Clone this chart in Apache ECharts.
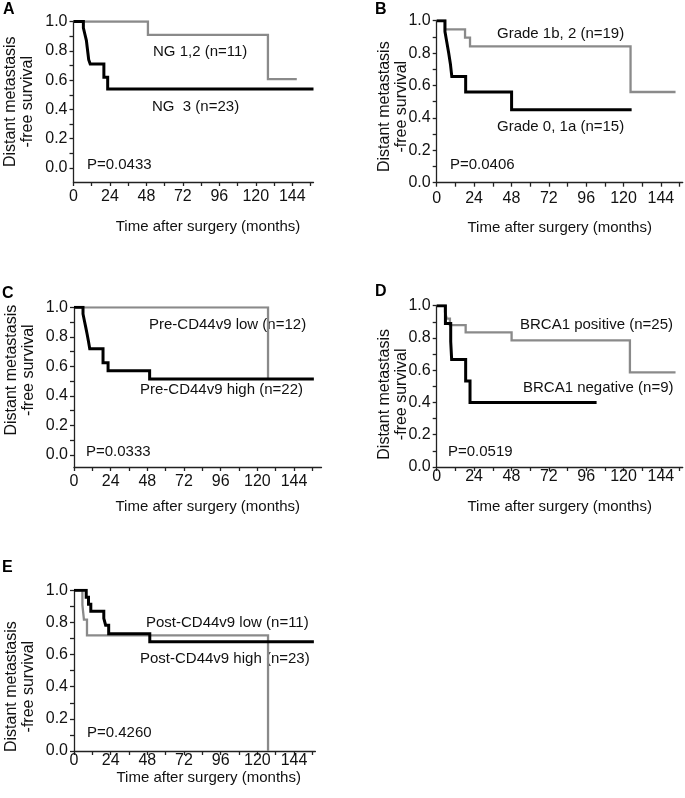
<!DOCTYPE html>
<html>
<head>
<meta charset="utf-8">
<script src="https://cdn.jsdelivr.net/npm/echarts@6/dist/echarts.min.js"></script>
<style>
html,body{margin:0;padding:0;background:#fff;}
#chart{width:685px;height:798px;}
</style>
</head>
<body>
<div id="chart"></div>
<script>
// ---- axis ticks / labels ----
const monthTicks = [0, 12, 24, 36, 48, 60, 72, 84, 96, 108, 120, 132, 144, 156];
const monthLabels = [0, 24, 48, 72, 96, 120, 144];
const survTicks = [0, 0.1, 0.2, 0.3, 0.4, 0.5, 0.6, 0.7, 0.8, 0.9, 1.0];
const survLabels = [0, 0.2, 0.4, 0.6, 0.8, 1.0];

// ---- Panel A : nuclear grade ----
const aNg12Time = [0, 49, 128, 147];
const aNg12Surv = [1, 0.909, 0.606, 0.606];
const aNg3Time = [0, 6.5, 7.5, 8.5, 9, 9.5, 10, 11, 20, 22.5, 158];
const aNg3Surv = [1, 0.957, 0.913, 0.87, 0.826, 0.783, 0.739, 0.71, 0.62, 0.54, 0.54];

// ---- Panel B : histological grade ----
const bG1b2Time = [0, 5.3, 18.2, 21.4, 124.5, 153.4];
const bG1b2Surv = [1, 0.947, 0.895, 0.842, 0.56, 0.56];
const bG01aTime = [0, 5.3, 6.5, 7.7, 8.8, 9.7, 18.6, 48.1, 125.2];
const bG01aSurv = [1, 0.933, 0.867, 0.8, 0.733, 0.655, 0.56, 0.45, 0.45];

// ---- Panel C : pre-treatment CD44v9 ----
const cLowTime = [0, 127];
const cLowSurv = [1, 0.515];
const cHighTime = [0, 5.9, 6.8, 7.7, 8.6, 9.4, 10.3, 19, 22.3, 49.5, 157];
const cHighSurv = [1, 0.955, 0.909, 0.864, 0.818, 0.773, 0.72, 0.625, 0.57, 0.515, 0.515];

// ---- Panel D : BRCA1 ----
const dPosTime = [0, 5.3, 6.5, 8.5, 18.6, 48.1, 124.1, 153.4];
const dPosSurv = [1, 0.96, 0.92, 0.88, 0.835, 0.785, 0.587, 0.587];
const dNegTime = [0, 5.6, 9, 9.6, 18.6, 21.4, 102.7];
const dNegSurv = [1, 0.889, 0.778, 0.667, 0.533, 0.40, 0.40];

// ---- Panel E : post-treatment CD44v9 ----
const eLowTime = [0, 5.5, 6.5, 8.5, 127];
const eLowSurv = [1, 0.909, 0.818, 0.72, 0];
const eHighTime = [0, 8, 9.5, 11, 19.5, 20.7, 22.7, 49.6, 157];
const eHighSurv = [1, 0.956, 0.913, 0.87, 0.826, 0.783, 0.73, 0.68, 0.68];

const GRAY = '#8a8a8a';
const BLACK = '#000000';
const TXT = '#111111';
const FONT = '"Liberation Sans", Arial, sans-serif';

function pairs(t, s) { return t.map((v, i) => [v, s[i]]); }

const panels = [
  { letter: 'A', grid: { left: 73.5, top: 21.5, width: 240, height: 160.5 }, yMin: -0.0955, xMax: 158,
    xLabelMargin: 7, xNameGap: 37, xNamePad: [0, 0, 0, 29], yNameGap: 37, yNamePad: [0, 0, 0, 0],
    series: [
      { name: 'NG 1,2 (n=11)', t: aNg12Time, s: aNg12Surv, color: GRAY, w: 2.3 },
      { name: 'NG 3 (n=23)', t: aNg3Time, s: aNg3Surv, color: BLACK, w: 3 }
    ] },
  { letter: 'B', grid: { left: 436.7, top: 20.7, width: 246, height: 162 }, yMin: 0, xMax: 158,
    xLabelMargin: 8, xNameGap: 38, xNamePad: [0, 0, 0, 0], yNameGap: 27, yNamePad: [0, 10, 0, 0],
    series: [
      { name: 'Grade 1b, 2 (n=19)', t: bG1b2Time, s: bG1b2Surv, color: GRAY, w: 2.3 },
      { name: 'Grade 0, 1a (n=15)', t: bG01aTime, s: bG01aSurv, color: BLACK, w: 3 }
    ] },
  { letter: 'C', grid: { left: 74, top: 307.3, width: 247.5, height: 159.7 }, yMin: -0.081, xMax: 162,
    xLabelMargin: 7, xNameGap: 32, xNamePad: [0, 0, 0, 20], yNameGap: 37, yNamePad: [0, 0, 0, 34],
    series: [
      { name: 'Pre-CD44v9 low (n=12)', t: cLowTime, s: cLowSurv, color: GRAY, w: 2.3 },
      { name: 'Pre-CD44v9 high (n=22)', t: cHighTime, s: cHighSurv, color: BLACK, w: 3 }
    ] },
  { letter: 'D', grid: { left: 436.7, top: 305.7, width: 246, height: 161.3 }, yMin: 0, xMax: 158,
    xLabelMargin: 2, xNameGap: 32, xNamePad: [0, 0, 0, 0], yNameGap: 27, yNamePad: [0, 16, 0, 0],
    series: [
      { name: 'BRCA1 positive (n=25)', t: dPosTime, s: dPosSurv, color: GRAY, w: 2.3 },
      { name: 'BRCA1 negative (n=9)', t: dNegTime, s: dNegSurv, color: BLACK, w: 3 }
    ] },
  { letter: 'E', grid: { left: 74, top: 590.3, width: 241.4, height: 160.7 }, yMin: 0, xMax: 158,
    xLabelMargin: 2, xNameGap: 19, xNamePad: [0, 0, 0, 28], yNameGap: 37, yNamePad: [0, 32, 0, 0],
    series: [
      { name: 'Post-CD44v9 low (n=11)', t: eLowTime, s: eLowSurv, color: GRAY, w: 2.3 },
      { name: 'Post-CD44v9 high (n=23)', t: eHighTime, s: eHighSurv, color: BLACK, w: 3 }
    ] }
];

// annotation texts (pixel placement of the labels)
const annotations = [
  { text: 'NG 1,2 (n=11)', x: 153, y: 52 },
  { text: 'NG  3 (n=23)', x: 152, y: 107 },
  { text: 'P=0.0433', x: 87, y: 165 },
  { text: 'Grade 1b, 2 (n=19)', x: 497, y: 34 },
  { text: 'Grade 0, 1a (n=15)', x: 497, y: 127 },
  { text: 'P=0.0406', x: 450, y: 165 },
  { text: 'Pre-CD44v9 low (n=12)', x: 149, y: 325 },
  { text: 'Pre-CD44v9 high (n=22)', x: 140, y: 390 },
  { text: 'P=0.0333', x: 86, y: 452 },
  { text: 'BRCA1 positive (n=25)', x: 520, y: 325 },
  { text: 'BRCA1 negative (n=9)', x: 523, y: 388 },
  { text: 'P=0.0519', x: 448, y: 452 },
  { text: 'Post-CD44v9 low (n=11)', x: 146, y: 623 },
  { text: 'Post-CD44v9 high (n=23)', x: 140, y: 659 },
  { text: 'P=0.4260', x: 87, y: 733 }
];
const letterPos = [[3, 10], [375, 10], [2, 294], [375, 292], [2, 568]];

const axisLineStyle = { color: '#222', width: 1.3 };

const option = {
  animation: false,
  backgroundColor: '#fff',
  textStyle: { fontFamily: FONT, color: TXT },
  grid: [], xAxis: [], yAxis: [], series: [], graphic: []
};

panels.forEach((p, i) => {
  option.grid.push(Object.assign({ containLabel: false }, p.grid));
  option.xAxis.push({
    gridIndex: i, type: 'value', min: 0, max: p.xMax,
    name: 'Time after surgery (months)', nameLocation: 'middle', nameGap: p.xNameGap,
    nameMoveOverlap: false,
    nameTextStyle: { fontSize: 15, color: TXT, fontFamily: FONT, padding: p.xNamePad },
    axisLine: { show: true, onZero: false, lineStyle: axisLineStyle },
    axisTick: { show: true, inside: false, length: 4, customValues: monthTicks, lineStyle: axisLineStyle },
    axisLabel: { customValues: monthLabels, margin: p.xLabelMargin, fontSize: 16, color: TXT, fontFamily: FONT, hideOverlap: false },
    splitLine: { show: false }
  });
  option.yAxis.push({
    gridIndex: i, type: 'value', min: p.yMin, max: 1,
    name: 'Distant metastasis\n-free survival', nameLocation: 'middle', nameGap: p.yNameGap,
    nameMoveOverlap: false,
    nameTextStyle: { fontSize: 16, lineHeight: 17, color: TXT, fontFamily: FONT, padding: p.yNamePad },
    axisLine: { show: true, onZero: false, lineStyle: axisLineStyle },
    axisTick: { show: true, inside: false, length: 4, customValues: survTicks, lineStyle: axisLineStyle },
    axisLabel: { customValues: survLabels, margin: 6, fontSize: 16, color: TXT, fontFamily: FONT,
      formatter: v => Number(v).toFixed(1) },
    splitLine: { show: false }
  });
  p.series.forEach(s => {
    option.series.push({
      type: 'line', name: s.name, xAxisIndex: i, yAxisIndex: i,
      step: 'end', showSymbol: false, symbol: 'none', silent: true,
      data: pairs(s.t, s.s),
      lineStyle: { color: s.color, width: s.w, join: 'miter', cap: 'butt' },
      itemStyle: { color: s.color }
    });
  });
  option.graphic.push({
    type: 'text', x: letterPos[i][0], y: letterPos[i][1],
    style: { text: p.letter, font: 'bold 16px ' + FONT, fill: '#000', verticalAlign: 'middle', align: 'left' }
  });
});

annotations.forEach(a => {
  option.graphic.push({
    type: 'text', x: a.x, y: a.y,
    style: { text: a.text, font: '15px ' + FONT, fill: TXT, verticalAlign: 'middle', align: 'left' }
  });
});

const chart = echarts.init(document.getElementById('chart'), null, { renderer: 'canvas' });
chart.setOption(option);
</script>
</body>
</html>
